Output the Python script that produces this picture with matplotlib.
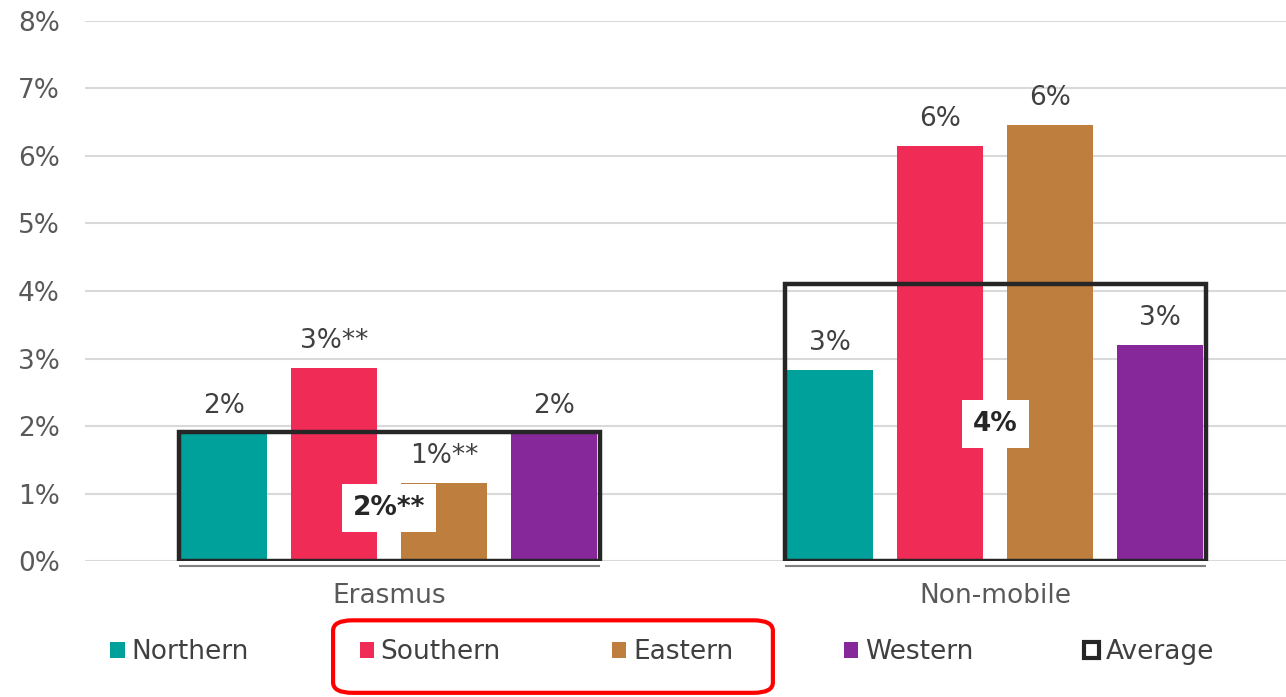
import matplotlib
matplotlib.use("Agg")
import matplotlib.pyplot as plt
from matplotlib.patches import Patch, FancyBboxPatch
import numpy as np

plt.rcParams["font.family"] = ["DejaVu Sans"]

groups = ["Erasmus", "Non-mobile"]
regions = ["Northern", "Southern", "Eastern", "Western"]
values = {
    "Northern": [1.90, 2.83],
    "Southern": [2.86, 6.15],
    "Eastern": [1.16, 6.46],
    "Western": [1.90, 3.20],
}
value_labels = {
    "Northern": ["2%", "3%"],
    "Southern": ["3%**", "6%"],
    "Eastern": ["1%**", "6%"],
    "Western": ["2%", "3%"],
}
average = [1.91, 4.10]
average_labels = ["2%**", "4%"]
yticks = [0, 1, 2, 3, 4, 5, 6, 7, 8]
ytick_labels = ["0%", "1%", "2%", "3%", "4%", "5%", "6%", "7%", "8%"]

colors = {
    "Northern": "#00A19B",
    "Southern": "#F02C56",
    "Eastern": "#BE7E3D",
    "Western": "#87289A",
}
text_color = "#404040"
tick_color = "#595959"
fs = 19

fig = plt.figure(figsize=(12.86, 6.97), dpi=100)
ax = fig.add_axes([0.066, 0.195, 0.934, 0.775])

x = np.arange(len(groups))
step = 0.1815
width = 0.142
offsets = (np.arange(len(regions)) - 1.5) * step

for i, r in enumerate(regions):
    bars = ax.bar(x + offsets[i], values[r], width=width, color=colors[r], zorder=2)
    for b, lab in zip(bars, value_labels[r]):
        ax.annotate(lab, (b.get_x() + b.get_width() / 2, b.get_height()),
                    xytext=(0, 10), textcoords="offset points",
                    ha="center", va="bottom", fontsize=fs, color=text_color, zorder=5)

box_w = 4 * step - (step - width) + 0.008
ax.bar(x, average, width=box_w, facecolor="none", edgecolor="#262626",
       linewidth=3.2, zorder=3)
for xi, v, lab in zip(x, average, average_labels):
    ax.text(xi, v * 0.5685 - 0.30, lab, ha="center", va="center", fontsize=fs,
            fontweight="bold", color="#262626", zorder=6,
            bbox=dict(facecolor="white", edgecolor="none", pad=8))
    ax.hlines(-0.07, xi - box_w / 2, xi + box_w / 2, color="#808080",
              linewidth=1.5, clip_on=False, zorder=1)

ax.set_xlim(-0.502, 1.480)
ax.set_ylim(0, 8)
ax.set_yticks(yticks)
ax.set_yticklabels(ytick_labels)
ax.set_xticks(x)
ax.set_xticklabels(groups)
ax.tick_params(axis="both", length=0, labelsize=fs, colors=tick_color)
ax.tick_params(axis="y", pad=18)
ax.tick_params(axis="x", pad=16)
for s in ax.spines.values():
    s.set_visible(False)
ax.yaxis.grid(True, color="#D9D9D9", linewidth=1.5, zorder=0)
ax.set_axisbelow(True)

handles = [Patch(facecolor=colors[r], edgecolor="none", label=r) for r in regions]
handles.append(Patch(facecolor="white", edgecolor="#262626", linewidth=3, label="Average"))
leg = fig.legend(handles=handles, loc="center", bbox_to_anchor=(0.5148, 0.0646), ncol=5,
                 frameon=False, fontsize=fs, handlelength=0.55, handleheight=0.55,
                 handletextpad=0.25, columnspacing=4.2)
for t in leg.get_texts():
    t.set_color(text_color)

fig.patches.append(FancyBboxPatch((0.259, 0.006), 0.342, 0.104,
                                  boxstyle="round,pad=0,rounding_size=0.015",
                                  transform=fig.transFigure, facecolor="none",
                                  edgecolor="#FF0000", linewidth=3))

fig.savefig("out.png", dpi=100)
